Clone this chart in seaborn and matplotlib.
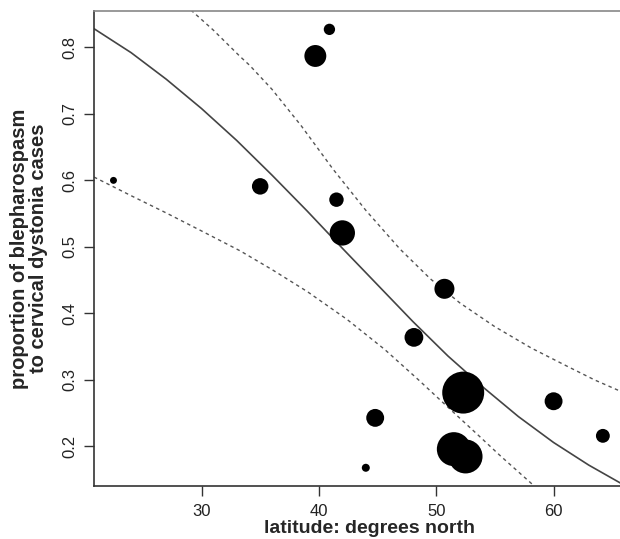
import pandas as pd
import seaborn as sns
import matplotlib.pyplot as plt

# punctele observate: latitudine, proportie, numar de cazuri (marimea bulinei)
latitude = [22.5, 35.0, 39.7, 40.9, 41.5, 42.0, 48.1, 50.7, 44.8, 44.0, 52.3, 51.5, 52.5, 60.0, 64.2]
proportion = [0.600, 0.591, 0.787, 0.827, 0.571, 0.521, 0.364, 0.437, 0.243, 0.168, 0.281, 0.196, 0.185, 0.268, 0.216]
cases = [3, 17, 30, 8, 13, 40, 22, 25, 20, 4, 110, 72, 72, 20, 12]

# curba ajustata si banda de incredere
fit_x = [20.84, 24, 27, 30, 33, 36, 39, 42, 45, 48, 51, 54, 57, 60, 63, 65.7]
fit_y = [0.828, 0.792, 0.752, 0.708, 0.660, 0.608, 0.554, 0.498, 0.443, 0.388, 0.336, 0.289, 0.245, 0.206, 0.172, 0.145]

upper_x = [29.1, 31, 33.3, 34.1, 36, 38.5, 41.2, 44, 46.9, 49.5, 52, 55, 58.1, 61, 63.5, 65.7]
upper_y = [0.856, 0.826, 0.786, 0.773, 0.737, 0.682, 0.617, 0.555, 0.497, 0.452, 0.416, 0.380, 0.348, 0.322, 0.300, 0.283]

lower_x = [20.84, 24, 27, 30, 33.3, 36, 39, 42.4, 45.6, 48.5, 51, 53.7, 55.4, 58.2]
lower_y = [0.605, 0.577, 0.551, 0.524, 0.494, 0.466, 0.433, 0.391, 0.346, 0.300, 0.259, 0.215, 0.187, 0.143]

data = pd.DataFrame({'lat': latitude, 'prop': proportion, 'n': cases})

sns.set_style('ticks')
plt.rcParams['font.family'] = ['Liberation Sans', 'DejaVu Sans']

fig = plt.figure(figsize=(6.2, 5.39), dpi=100)
# graficul original e taiat in dreapta, axa continua dincolo de marginea imaginii
ax = fig.add_axes([94 / 620, 1 - 486 / 539, 551 / 620, 475 / 539])

sns.lineplot(x=fit_x, y=fit_y, ax=ax, color='#444444', linewidth=1.2, sort=False)
sns.lineplot(x=upper_x, y=upper_y, ax=ax, color='#555555', linewidth=1.0,
             linestyle=(0, (2.5, 2.5)), sort=False)
sns.lineplot(x=lower_x, y=lower_y, ax=ax, color='#555555', linewidth=1.0,
             linestyle=(0, (2.5, 2.5)), sort=False)

k = 8.3
sns.scatterplot(data=data, x='lat', y='prop', size='n', sizes=(3 * k, 110 * k),
                size_norm=(3, 110), color='black', linewidth=0, legend=False, ax=ax, zorder=3)

ax.set_xlim(20.84, 67.79)
ax.set_ylim(0.1406, 0.8546)
ax.set_xticks([30, 40, 50, 60])
ax.set_yticks([0.2, 0.3, 0.4, 0.5, 0.6, 0.7, 0.8])
ax.set_yticklabels(['0.2', '0.3', '0.4', '0.5', '0.6', '0.7', '0.8'])
for lab in ax.get_yticklabels():
    lab.set_rotation(90)
    lab.set_va('center')

ax.tick_params(axis='both', direction='out', length=7, width=1, color='#333333',
               labelsize=12, labelcolor='#222222', pad=5)
ax.tick_params(axis='x', pad=6)

for side in ['left', 'bottom']:
    ax.spines[side].set_color('#333333')
    ax.spines[side].set_linewidth(1.2)
ax.spines['top'].set_color('#888888')
ax.spines['top'].set_linewidth(1.2)
ax.spines['right'].set_visible(False)

ax.set_xlabel('latitude: degrees north', fontsize=14, fontweight='bold', labelpad=1)
ax.set_ylabel('proportion of blepharospasm\nto cervical dystonia cases', fontsize=14.5,
              fontweight='bold', labelpad=10, linespacing=1.0)

fig.savefig('out.png', dpi=100)
